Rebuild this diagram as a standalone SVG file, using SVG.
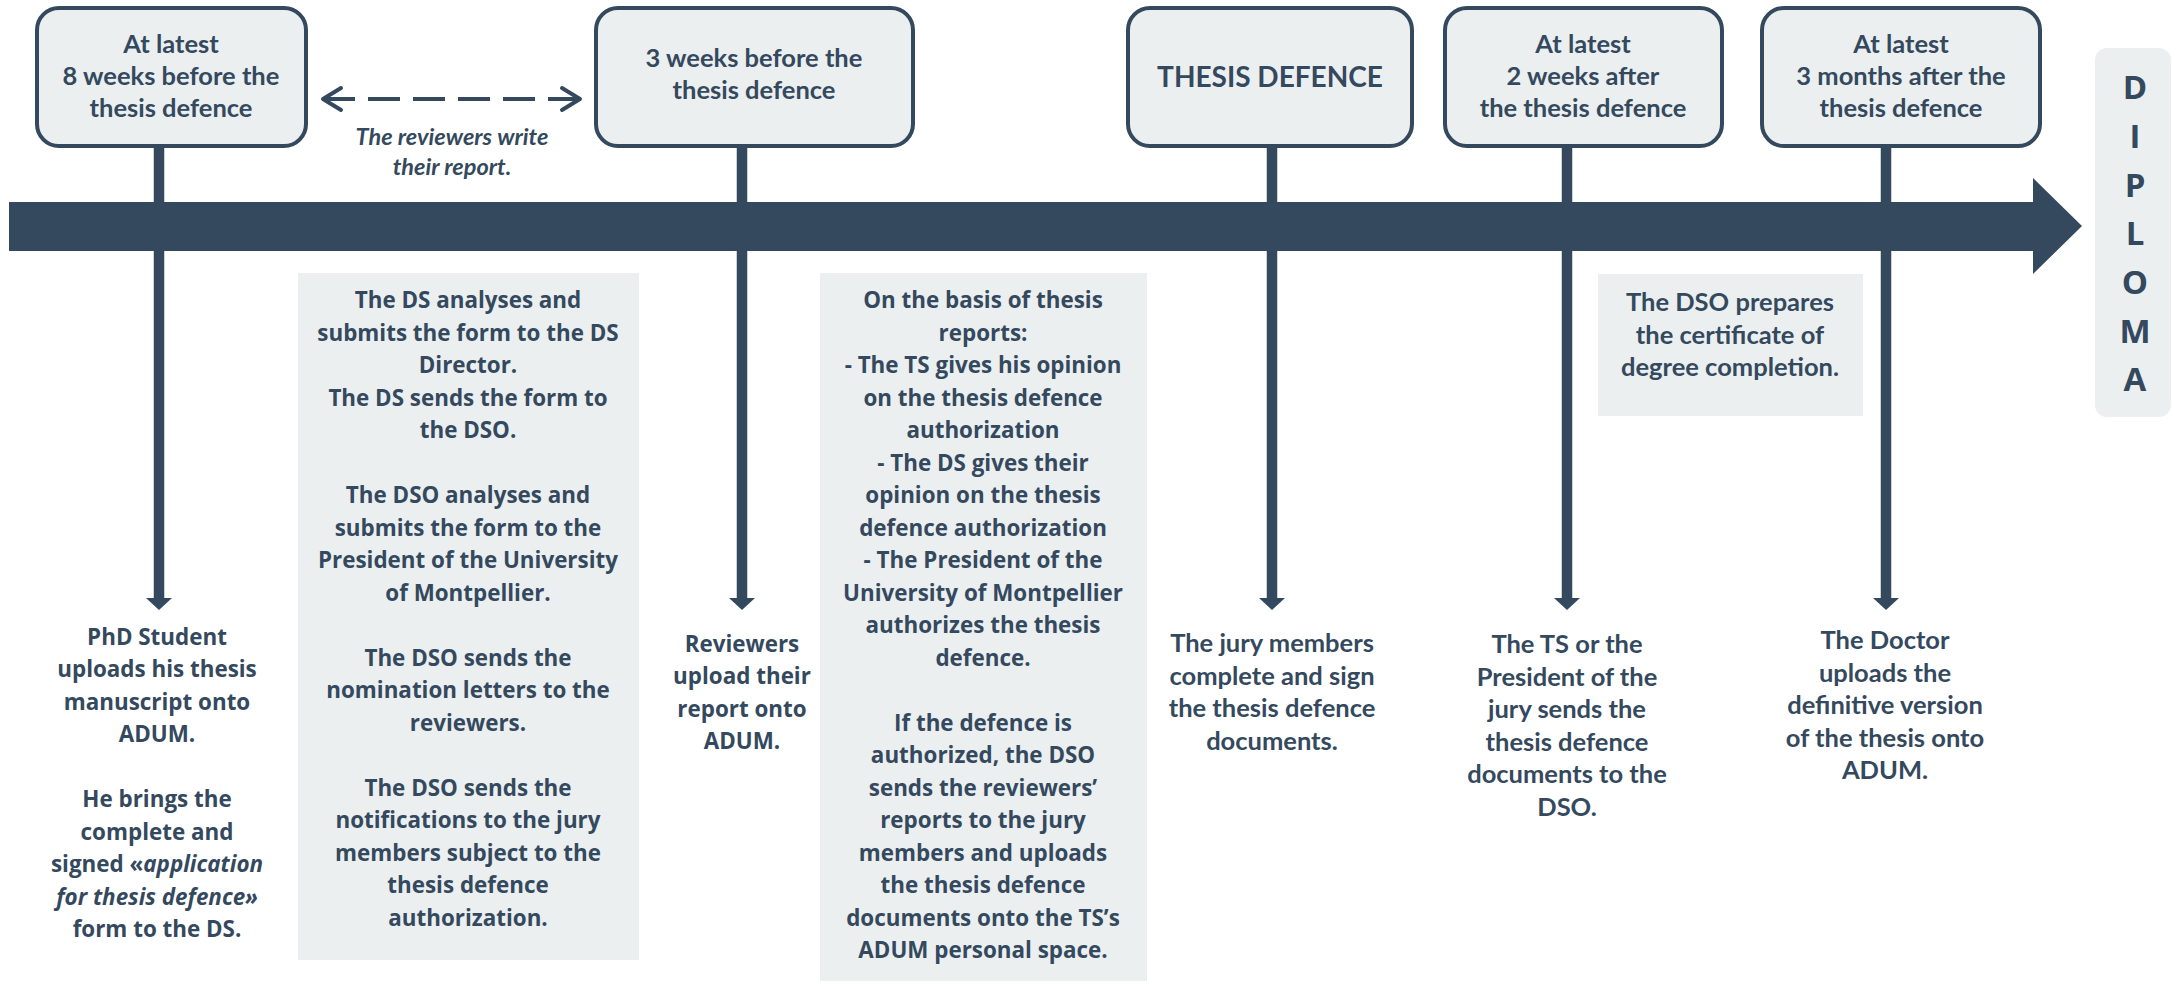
<svg xmlns="http://www.w3.org/2000/svg" width="2172" height="981" viewBox="0 0 2172 981">
<style>
.bg{fill:#ffffff}
.tbox{fill:#EBEFF0;stroke:#34495E;stroke-width:4}
.panel{fill:#EBEFF0}
.cal{font-family:Lato,"Liberation Sans",sans-serif;font-weight:bold;font-size:25.5px;fill:#34495E;text-anchor:middle}
.big{font-size:28px}
.os{font-family:"Open Sans","Liberation Sans",sans-serif;font-weight:bold;font-size:22.4px;fill:#34495E;text-anchor:middle}
.it{font-style:italic}
.dip{font-family:"Open Sans","Liberation Sans",sans-serif;font-weight:bold;font-size:33px;fill:#34495E;text-anchor:middle}
.vline{stroke:#34495E;stroke-width:10.5;fill:none;marker-end:url(#down)}
.dash{stroke:#34495E;stroke-width:4;fill:none;stroke-dasharray:32 13;marker-start:url(#chev);marker-end:url(#chev)}
.bar{fill:#34495E}
</style>
<defs>
<marker id="down" viewBox="0 0 12 26" markerWidth="12" markerHeight="26" refX="0" refY="13" orient="auto" markerUnits="userSpaceOnUse">
<path d="M0,0 L12,13 L0,26 Z" fill="#34495E"/>
</marker>
<marker id="chev" viewBox="-22 -14 26 28" markerWidth="26" markerHeight="28" refX="0" refY="0" orient="auto-start-reverse" markerUnits="userSpaceOnUse">
<path d="M-18,-11 L0,0 L-18,11" fill="none" stroke="#34495E" stroke-width="4" stroke-linecap="round" stroke-linejoin="round"/>
</marker>
</defs>
<rect class="bg" x="0" y="0" width="2172" height="981"/>

<g id="panels">
<rect id="panel-ds-bg" class="panel" x="298" y="273" width="341" height="687"/>
<rect id="panel-auth-bg" class="panel" x="820" y="273" width="327" height="708"/>
<rect id="panel-cert-bg" class="panel" x="1598" y="274" width="265" height="142"/>
</g>

<g id="connectors">
<line class="vline" x1="159" y1="146" x2="159" y2="598"/>
<line class="vline" x1="742" y1="146" x2="742" y2="598"/>
<line class="vline" x1="1272" y1="146" x2="1272" y2="598"/>
<line class="vline" x1="1567" y1="146" x2="1567" y2="598"/>
<line class="vline" x1="1886" y1="146" x2="1886" y2="598"/>
<line class="dash" x1="323" y1="99" x2="580" y2="99"/>
</g>

<g id="timeline">
<path class="bar" d="M9,202 H2033 V178 L2082,226 L2033,274 V251 H9 Z"/>
</g>

<g id="box-8weeks">
<rect class="tbox" x="37" y="8" width="269" height="138" rx="22"/>
<text class="cal" x="171" y="53">At latest</text>
<text class="cal" x="171" y="85">8 weeks before the</text>
<text class="cal" x="171" y="117">thesis defence</text>
</g>

<g id="box-3weeks">
<rect class="tbox" x="596" y="8" width="317" height="138" rx="22"/>
<text class="cal" x="754" y="67">3 weeks before the</text>
<text class="cal" x="754" y="99">thesis defence</text>
</g>

<g id="box-defence">
<rect class="tbox" x="1128" y="8" width="284" height="138" rx="22"/>
<text class="cal big" x="1270" y="87">THESIS DEFENCE</text>
</g>

<g id="box-2weeks">
<rect class="tbox" x="1445" y="8" width="277" height="138" rx="22"/>
<text class="cal" x="1583" y="53">At latest</text>
<text class="cal" x="1583" y="85">2 weeks after</text>
<text class="cal" x="1583" y="117">the thesis defence</text>
</g>

<g id="box-3months">
<rect class="tbox" x="1762" y="8" width="278" height="138" rx="22"/>
<text class="cal" x="1901" y="53">At latest</text>
<text class="cal" x="1901" y="85">3 months after the</text>
<text class="cal" x="1901" y="117">thesis defence</text>
</g>

<g id="note-reviewers">
<text class="cal it" style="font-size:23.5px" x="452" y="145">The reviewers write</text>
<text class="cal it" style="font-size:23.5px" x="452" y="175">their report.</text>
</g>

<g id="diploma">
<rect class="panel" x="2095" y="48" width="76" height="369" rx="12"/>
<text class="dip" x="2135" y="99">D</text>
<text class="dip" x="2135" y="148">I</text>
<text class="dip" x="2135" y="197">P</text>
<text class="dip" x="2135" y="245">L</text>
<text class="dip" x="2135" y="294">O</text>
<text class="dip" x="2135" y="343">M</text>
<text class="dip" x="2135" y="391">A</text>
</g>

<g id="text-phd">
<text class="os" x="157" y="644.5">PhD Student</text>
<text class="os" x="157" y="677">uploads his thesis</text>
<text class="os" x="157" y="709.5">manuscript onto</text>
<text class="os" x="157" y="742">ADUM.</text>
<text class="os" x="157" y="807">He brings the</text>
<text class="os" x="157" y="839.5">complete and</text>
<text class="os" x="157" y="872">signed «<tspan class="it">application</tspan></text>
<text class="os it" x="157" y="904.5">for thesis defence»</text>
<text class="os" x="157" y="937">form to the DS.</text>
</g>

<g id="panel-ds">
<text class="os" x="468" y="308">The DS analyses and</text>
<text class="os" x="468" y="340.5">submits the form to the DS</text>
<text class="os" x="468" y="373">Director.</text>
<text class="os" x="468" y="405.5">The DS sends the form to</text>
<text class="os" x="468" y="438">the DSO.</text>
<text class="os" x="468" y="503">The DSO analyses and</text>
<text class="os" x="468" y="535.5">submits the form to the</text>
<text class="os" x="468" y="568">President of the University</text>
<text class="os" x="468" y="600.5">of Montpellier.</text>
<text class="os" x="468" y="665.5">The DSO sends the</text>
<text class="os" x="468" y="698">nomination letters to the</text>
<text class="os" x="468" y="730.5">reviewers.</text>
<text class="os" x="468" y="795.5">The DSO sends the</text>
<text class="os" x="468" y="828">notifications to the jury</text>
<text class="os" x="468" y="860.5">members subject to the</text>
<text class="os" x="468" y="893">thesis defence</text>
<text class="os" x="468" y="925.5">authorization.</text>
</g>

<g id="text-reviewers">
<text class="os" x="742" y="651.5">Reviewers</text>
<text class="os" x="742" y="684">upload their</text>
<text class="os" x="742" y="716.5">report onto</text>
<text class="os" x="742" y="749">ADUM.</text>
</g>

<g id="panel-authorization">
<text class="os" x="983" y="308">On the basis of thesis</text>
<text class="os" x="983" y="340.5">reports:</text>
<text class="os" x="983" y="373">- The TS gives his opinion</text>
<text class="os" x="983" y="405.5">on the thesis defence</text>
<text class="os" x="983" y="438">authorization</text>
<text class="os" x="983" y="470.5">- The DS gives their</text>
<text class="os" x="983" y="503">opinion on the thesis</text>
<text class="os" x="983" y="535.5">defence authorization</text>
<text class="os" x="983" y="568">- The President of the</text>
<text class="os" x="983" y="600.5">University of Montpellier</text>
<text class="os" x="983" y="633">authorizes the thesis</text>
<text class="os" x="983" y="665.5">defence.</text>
<text class="os" x="983" y="730.5">If the defence is</text>
<text class="os" x="983" y="763">authorized, the DSO</text>
<text class="os" x="983" y="795.5">sends the reviewers’</text>
<text class="os" x="983" y="828">reports to the jury</text>
<text class="os" x="983" y="860.5">members and uploads</text>
<text class="os" x="983" y="893">the thesis defence</text>
<text class="os" x="983" y="925.5">documents onto the TS’s</text>
<text class="os" x="983" y="958">ADUM personal space.</text>
</g>

<g id="text-jury">
<text class="cal" x="1272" y="652">The jury members</text>
<text class="cal" x="1272" y="684.5">complete and sign</text>
<text class="cal" x="1272" y="717">the thesis defence</text>
<text class="cal" x="1272" y="749.5">documents.</text>
</g>

<g id="text-ts">
<text class="cal" x="1567" y="653">The TS or the</text>
<text class="cal" x="1567" y="685.5">President of the</text>
<text class="cal" x="1567" y="718">jury sends the</text>
<text class="cal" x="1567" y="750.5">thesis defence</text>
<text class="cal" x="1567" y="783">documents to the</text>
<text class="cal" x="1567" y="815.5">DSO.</text>
</g>

<g id="panel-certificate">
<text class="cal" x="1730" y="311">The DSO prepares</text>
<text class="cal" x="1730" y="344">the certificate of</text>
<text class="cal" x="1730" y="376">degree completion.</text>
</g>

<g id="text-doctor">
<text class="cal" x="1885" y="649">The Doctor</text>
<text class="cal" x="1885" y="681.5">uploads the</text>
<text class="cal" x="1885" y="714">definitive version</text>
<text class="cal" x="1885" y="746.5">of the thesis onto</text>
<text class="cal" x="1885" y="779">ADUM.</text>
</g>
</svg>
